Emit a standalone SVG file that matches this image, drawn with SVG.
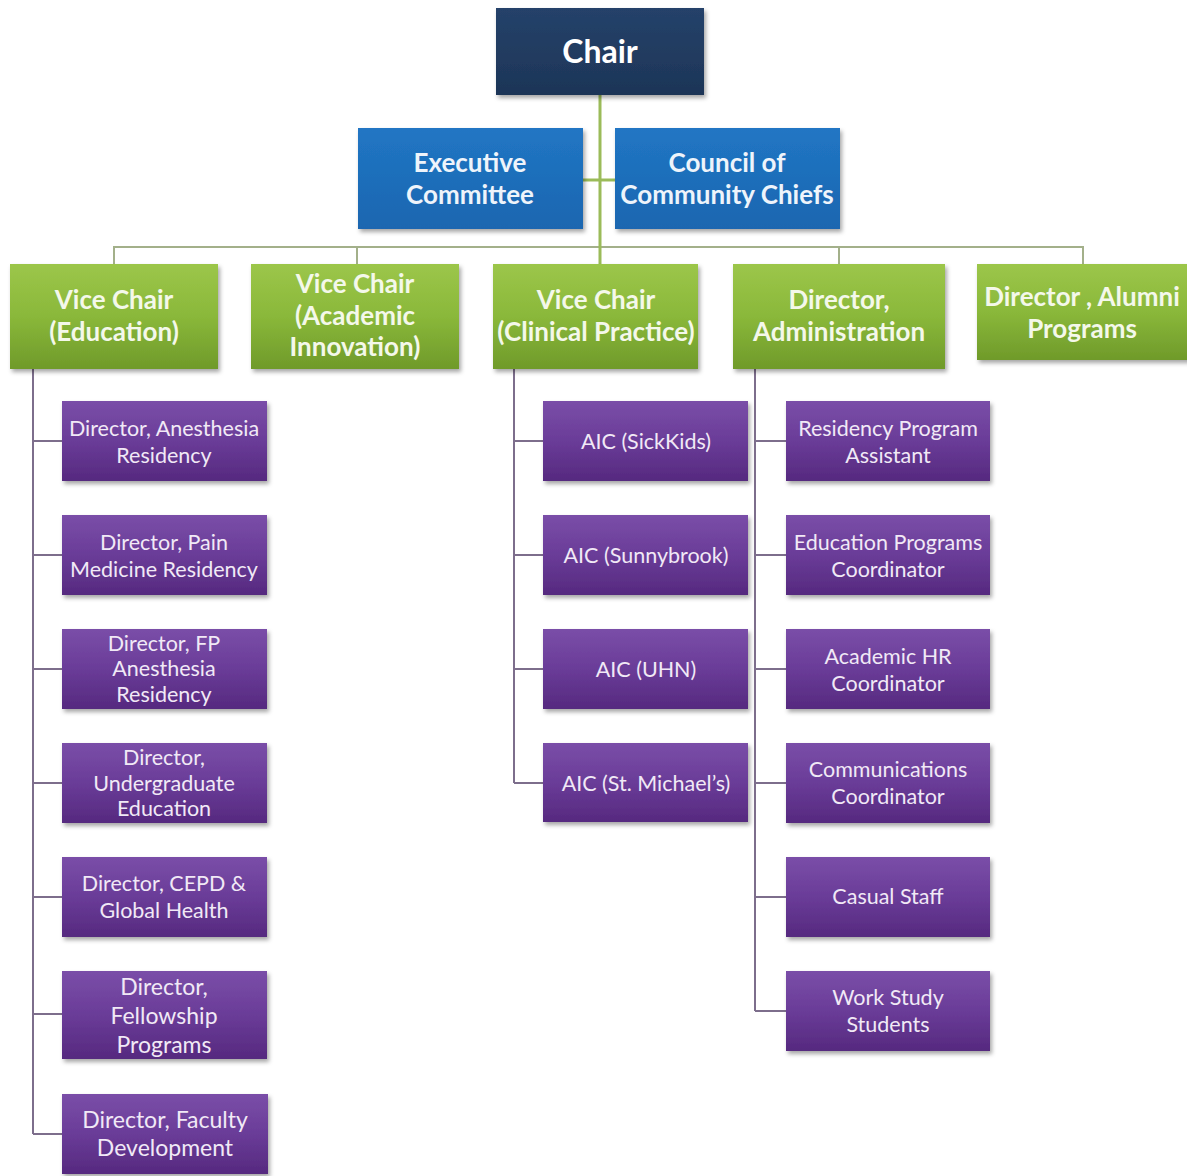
<svg xmlns="http://www.w3.org/2000/svg" width="1187" height="1176" viewBox="0 0 1187 1176">
<defs>
<linearGradient id="gNavy" x1="0" y1="0" x2="0" y2="1"><stop offset="0" stop-color="#25426a"/><stop offset="1" stop-color="#1d3557"/></linearGradient>
<linearGradient id="gBlue" x1="0" y1="0" x2="0" y2="1"><stop offset="0" stop-color="#2176c4"/><stop offset="1" stop-color="#1a66b0"/></linearGradient>
<linearGradient id="gGreen" x1="0" y1="0" x2="0" y2="1"><stop offset="0" stop-color="#9cc64a"/><stop offset="0.5" stop-color="#8ab83a"/><stop offset="1" stop-color="#6f9a2a"/></linearGradient>
<linearGradient id="gPurple" x1="0" y1="0" x2="0" y2="1"><stop offset="0" stop-color="#7a4ea8"/><stop offset="0.5" stop-color="#6a3c98"/><stop offset="1" stop-color="#56297f"/></linearGradient>
<filter id="sh" x="-10%" y="-10%" width="125%" height="135%"><feDropShadow dx="2" dy="3" stdDeviation="2" flood-color="#000" flood-opacity="0.35"/></filter>
</defs>
<style>
text{font-family:Lato,"Open Sans","Liberation Sans",sans-serif;text-anchor:middle;dominant-baseline:central}
.navy{fill:url(#gNavy);filter:url(#sh)}
.blue{fill:url(#gBlue);filter:url(#sh)}
.green{fill:url(#gGreen);filter:url(#sh)}
.purple{fill:url(#gPurple);filter:url(#sh)}
.t1{fill:#ffffff;font-weight:700;font-size:32px}
.t2{fill:#eef4fb;font-weight:700;font-size:26px}
.t3{fill:#f4f8ea;font-weight:700;font-size:26px}
.t4{fill:#f1e9f6;font-size:21.5px}
.t5{fill:#f1e9f6;font-size:23px}
.cg{stroke:#9bbb59;stroke-width:3;fill:none}
.cl{stroke:#a3b08a;stroke-width:2;fill:none}
.cp{stroke:#7d6e8c;stroke-width:2;fill:none}
</style>
<rect width="1187" height="1176" fill="#ffffff"/>
<g id="connectors">
<path class="cl" d="M114 264V247H1083V264M357 247V264M839 247V264"/>
<path class="cg" d="M600 95V264M583 180H615"/>
<path class="cp" d="M33 369V1134M33 441H62M33 555H62M33 669H62M33 783H62M33 897H62M33 1014H62M33 1134H62"/>
<path class="cp" d="M514 369V783M514 441H543M514 555H543M514 669H543M514 783H543"/>
<path class="cp" d="M755 369V1011M755 441H786M755 555H786M755 669H786M755 783H786M755 897H786M755 1011H786"/>
</g>
<g id="chair"><rect class="navy" x="496" y="8" width="208" height="87"/><text class="t1" x="600" y="50">Chair</text></g>
<g id="exec"><rect class="blue" x="358" y="128" width="225" height="101"/><text class="t2" x="470" y="162">Executive</text><text class="t2" x="470" y="194">Committee</text></g>
<g id="council"><rect class="blue" x="615" y="128" width="225" height="101"/><text class="t2" x="727" y="162">Council of</text><text class="t2" x="727" y="194">Community Chiefs</text></g>
<g id="vc-edu"><rect class="green" x="10" y="264" width="208" height="105"/><text class="t3" x="114" y="299">Vice Chair</text><text class="t3" x="114" y="331">(Education)</text></g>
<g id="vc-acad"><rect class="green" x="251" y="264" width="208" height="105"/><text class="t3" x="355" y="283">Vice Chair</text><text class="t3" x="355" y="315">(Academic</text><text class="t3" x="355" y="346">Innovation)</text></g>
<g id="vc-clin"><rect class="green" x="493" y="264" width="205" height="105"/><text class="t3" x="596" y="299">Vice Chair</text><text class="t3" x="596" y="331">(Clinical Practice)</text></g>
<g id="dir-admin"><rect class="green" x="733" y="264" width="212" height="105"/><text class="t3" x="839" y="299">Director,</text><text class="t3" x="839" y="331">Administration</text></g>
<g id="dir-alumni"><rect class="green" x="977" y="264" width="215" height="96"/><text class="t3" x="1082" y="296">Director , Alumni</text><text class="t3" x="1082" y="328">Programs</text></g>
<g id="e1"><rect class="purple" x="62" y="401" width="205" height="80"/><text class="t4" x="164" y="428">Director, Anesthesia</text><text class="t4" x="164" y="455">Residency</text></g>
<g id="e2"><rect class="purple" x="62" y="515" width="205" height="80"/><text class="t4" x="164" y="542">Director, Pain</text><text class="t4" x="164" y="569">Medicine Residency</text></g>
<g id="e3"><rect class="purple" x="62" y="629" width="205" height="80"/><text class="t4" x="164" y="643">Director, FP</text><text class="t4" x="164" y="668">Anesthesia</text><text class="t4" x="164" y="694">Residency</text></g>
<g id="e4"><rect class="purple" x="62" y="743" width="205" height="80"/><text class="t4" x="164" y="757">Director,</text><text class="t4" x="164" y="783">Undergraduate</text><text class="t4" x="164" y="808">Education</text></g>
<g id="e5"><rect class="purple" x="62" y="857" width="205" height="80"/><text class="t4" x="164" y="883">Director, CEPD &amp;</text><text class="t4" x="164" y="910">Global Health</text></g>
<g id="e6"><rect class="purple" x="62" y="971" width="205" height="88"/><text class="t5" x="164" y="986">Director,</text><text class="t5" x="164" y="1015">Fellowship</text><text class="t5" x="164" y="1044">Programs</text></g>
<g id="e7"><rect class="purple" x="62" y="1094" width="206" height="80"/><text class="t5" x="165" y="1119">Director, Faculty</text><text class="t5" x="165" y="1147">Development</text></g>
<g id="c1"><rect class="purple" x="543" y="401" width="205" height="80"/><text class="t4" x="646" y="441">AIC (SickKids)</text></g>
<g id="c2"><rect class="purple" x="543" y="515" width="205" height="80"/><text class="t4" x="646" y="555">AIC (Sunnybrook)</text></g>
<g id="c3"><rect class="purple" x="543" y="629" width="205" height="80"/><text class="t4" x="646" y="669">AIC (UHN)</text></g>
<g id="c4"><rect class="purple" x="543" y="743" width="205" height="79"/><text class="t4" x="646" y="783">AIC (St. Michael’s)</text></g>
<g id="a1"><rect class="purple" x="786" y="401" width="204" height="80"/><text class="t4" x="888" y="428">Residency Program</text><text class="t4" x="888" y="455">Assistant</text></g>
<g id="a2"><rect class="purple" x="786" y="515" width="204" height="80"/><text class="t4" x="888" y="542">Education Programs</text><text class="t4" x="888" y="569">Coordinator</text></g>
<g id="a3"><rect class="purple" x="786" y="629" width="204" height="80"/><text class="t4" x="888" y="656">Academic HR</text><text class="t4" x="888" y="683">Coordinator</text></g>
<g id="a4"><rect class="purple" x="786" y="743" width="204" height="80"/><text class="t4" x="888" y="769">Communications</text><text class="t4" x="888" y="796">Coordinator</text></g>
<g id="a5"><rect class="purple" x="786" y="857" width="204" height="80"/><text class="t4" x="888" y="896">Casual Staff</text></g>
<g id="a6"><rect class="purple" x="786" y="971" width="204" height="80"/><text class="t4" x="888" y="997">Work Study</text><text class="t4" x="888" y="1024">Students</text></g>
</svg>
